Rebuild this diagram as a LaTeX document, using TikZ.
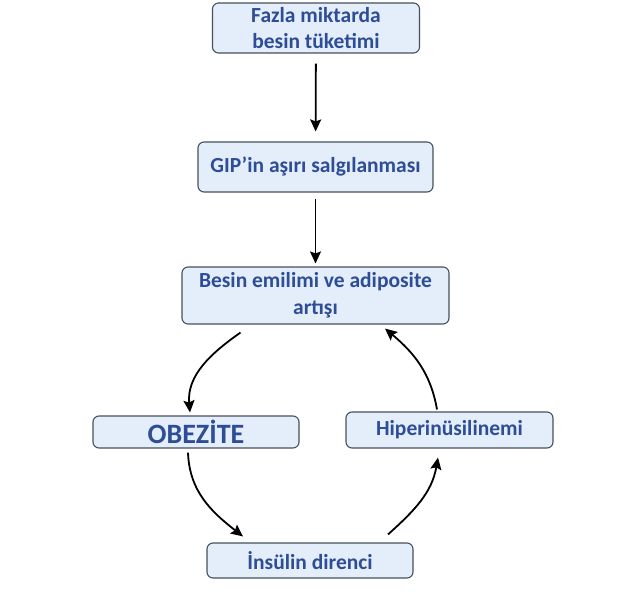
\documentclass[tikz,border=0pt]{standalone}
\usepackage{fontspec}
\setmainfont{Carlito}
\usetikzlibrary{shapes,arrows.meta,positioning}

\definecolor{boxfill}{HTML}{E3EEFA}
\definecolor{boxline}{HTML}{46505C}
\definecolor{boxtext}{HTML}{2E4D96}

\begin{document}
\begin{tikzpicture}[
    x=1pt, y=1pt,
    box/.style={rectangle, rounded corners=6pt, draw=boxline, line width=1.1pt, fill=boxfill, text=boxtext, inner sep=0pt, align=center, font=\fontsize{21.5}{26.5}\selectfont\bfseries},
    arrow/.style={-{Stealth[length=12pt,width=11pt,inset=2pt]}, line width=1.8pt}
]
    \useasboundingbox (0,0) rectangle (620,600);
    \node[box, minimum width=207pt, minimum height=50pt] (food) at (316,572) {Fazla miktarda\\besin tüketimi};
    \node[box, minimum width=235pt, minimum height=50pt] (gip) at (315.5,433) {GIP’in aşırı salgılanması};
    \node[box, minimum width=267pt, minimum height=57pt] (absorb) at (315.5,304.5) {Besin emilimi ve adiposite\\artışı};
    \node[box, minimum width=206pt, minimum height=32pt, font=\fontsize{28}{30}\selectfont\bfseries] (obesity) at (196,168) {OBEZİTE};
    \node[box, minimum width=207pt, minimum height=36pt] (hyper) at (449.5,170) {Hiperinüsilinemi};
    \node[box, minimum width=206pt, minimum height=35pt] (resist) at (310,39.5) {İnsülin direnci};

    \draw[arrow, shorten <=10pt, shorten >=10pt] (food) -- (gip);
    \draw[arrow, shorten <=6pt, shorten >=3pt] (gip) -- (absorb);

    % the loop
    \draw[arrow] ([xshift=-75pt,yshift=-8pt]absorb.south) to[out=215, in=95] ([xshift=-6pt,yshift=3pt]obesity.north);
    \draw[arrow] ([xshift=-8pt,yshift=-4pt]obesity.south) to[out=-88, in=142] ([xshift=-67pt,yshift=6pt]resist.north);
    \draw[arrow] ([xshift=78pt,yshift=8pt]resist.north) to[out=42, in=-100] ([xshift=-11.5pt,yshift=-9pt]hyper.south);
    \draw[arrow] ([xshift=-12.5pt,yshift=2pt]hyper.north) to[out=100, in=-40] ([xshift=69.5pt,yshift=-4pt]absorb.south);
\end{tikzpicture}
\end{document}
